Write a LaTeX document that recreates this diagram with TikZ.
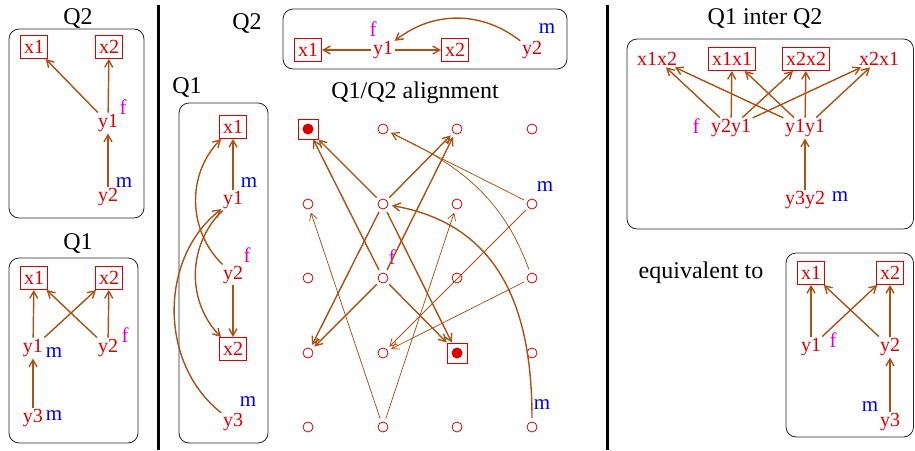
\documentclass[tikz,border=0pt]{standalone}
\usepackage{fontspec}
\setmainfont{Liberation Serif}
\usetikzlibrary{arrows.meta}
\definecolor{nred}{RGB}{218,0,0}
\definecolor{ebrown}{RGB}{168,82,20}
\definecolor{fmag}{RGB}{214,0,214}
\definecolor{mblue}{RGB}{0,0,240}
\tikzset{
 nd/.style={text=nred, font=\fontsize{20}{24}\selectfont, inner sep=1.5pt},
 bx/.style={nd, draw=nred, line width=0.9pt, minimum height=23pt, inner xsep=3.5pt},
 ttl/.style={font=\fontsize{24}{28}\selectfont, inner sep=0pt},
 fl/.style={text=fmag, font=\fontsize{21}{24}\selectfont, inner sep=0pt},
 ml/.style={text=mblue, font=\fontsize{21}{24}\selectfont, inner sep=0pt},
 panel/.style={draw=black!85, line width=0.8pt, rounded corners=10pt},
 ed/.style={draw=ebrown, line width=1.4pt, -{Straight Barb[length=7pt,width=8pt]}},
 edt/.style={draw=ebrown, line width=0.75pt, -{Straight Barb[length=7pt,width=8pt]}},
 gc/.style={circle, draw=nred, line width=0.8pt, minimum size=10pt, inner sep=0pt, outer sep=4pt},
 gf/.style={rectangle, draw=nred, line width=0.9pt, minimum size=20pt, inner sep=0pt,
   path picture={\fill[nred] (path picture bounding box.center) circle (5.5pt);}},
 sepline/.style={line width=3pt, draw=black}
}
\begin{document}
\begin{tikzpicture}[x=1pt,y=1pt]
\useasboundingbox (0,0) rectangle (915,-450);
% separators
\coordinate (s1a) at (158.5,-5); \coordinate (s1b) at (158.5,-450);
\coordinate (s2a) at (607,-5); \coordinate (s2b) at (607,-450);
\draw[sepline] (s1a) -- (s1b);
\draw[sepline] (s2a) -- (s2b);

% ---------- left top: Q2 ----------
\node[ttl] (tA) at (78,-18) {Q2};
\draw[panel] (9,-29) rectangle (144,-218);
\node[bx] (ax1) at (34,-47) {x1};
\node[bx] (ax2) at (109,-47) {x2};
\node[nd] (ay1) at (108,-123) {y1};
\node[nd] (ay2) at (108,-197) {y2};
\node[fl] (af) at (123,-107) {f};
\node[ml] (am) at (124,-183) {m};
\draw[ed] (ay1) -- (ax1);
\draw[ed] (ay1) -- (ax2);
\draw[ed] (ay2) -- (ay1);

% ---------- left bottom: Q1 ----------
\node[ttl] (tB) at (78,-243) {Q1};
\draw[panel] (9,-258) rectangle (138,-443);
\node[bx] (bx1) at (34,-278) {x1};
\node[bx] (bx2) at (109,-278) {x2};
\node[nd] (by1) at (33,-348) {y1};
\node[nd] (by2) at (108,-348) {y2};
\node[nd] (by3) at (33,-418) {y3};
\node[ml] (bm1) at (54,-353) {m};
\node[fl] (bf) at (125,-335) {f};
\node[ml] (bm3) at (54,-416) {m};
\draw[ed] (by1) -- (bx1);
\draw[ed] (by1) -- (bx2);
\draw[ed] (by2) -- (bx1);
\draw[ed] (by2) -- (bx2);
\draw[ed] (by3) -- (by1);

% ---------- middle top: Q2 ----------
\node[ttl] (tC) at (247,-23) {Q2};
\draw[panel] (283,-9) rectangle (567,-69);
\node[bx] (cx1) at (308,-50) {x1};
\node[nd] (cy1) at (383,-50) {y1};
\node[bx] (cx2) at (455,-50) {x2};
\node[nd] (cy2) at (532,-50) {y2};
\node[fl] (cf) at (373,-29) {f};
\node[ml] (cm) at (547,-29) {m};
\draw[ed] (cy1) -- (cx1);
\draw[ed] (cy1) -- (cx2);
\draw[ed] (cy2) to[bend right=38] (cy1);

% ---------- middle left: Q1 ----------
\node[ttl] (tD) at (187,-87) {Q1};
\draw[panel] (179,-103) rectangle (268,-443);
\node[bx] (dx1) at (233,-127) {x1};
\node[nd] (dy1) at (233,-200) {y1};
\node[nd] (dy2) at (233,-275) {y2};
\node[bx] (dx2) at (233,-349) {x2};
\node[nd] (dy3) at (233,-422) {y3};
\node[ml] (dm1) at (249,-183) {m};
\node[fl] (df) at (247,-255) {f};
\node[ml] (dm3) at (248,-402) {m};
\draw[ed] (dy1) -- (dx1);
\draw[ed] (dy2) -- (dx2);
\draw[ed] (dy2) to[bend left=45] (dx1);
\draw[ed] (dy1) to[bend right=45] (dx2);
\draw[ed] (dy3) to[bend left=52] (dy1);

% ---------- alignment grid ----------
\node[ttl] (tE) at (415,-93) {Q1/Q2 alignment};
\foreach \r/\yy in {0/129,1/204,2/278,3/353,4/427}{
  \foreach \c/\xx in {0/308,1/383,2/457,3/532}{
    \ifnum\r\c=0
      \node[gf] (g\r\c) at (\xx,-\yy) {};
    \else\ifnum\r\c=32
      \node[gf] (g\r\c) at (\xx,-\yy) {};
    \else
      \node[gc] (g\r\c) at (\xx,-\yy) {};
    \fi\fi
  }
}
\node[ml] (em1) at (545,-187) {m};
\node[fl] (ef) at (392,-257) {f};
\node[ml] (em2) at (542,-405) {m};
\foreach \s in {g11,g21}{
  \foreach \t in {g00,g02,g30,g32}{
    \draw[ed] (\s) -- (\t);
  }
}
\draw[ed] (g43) to[out=90,in=-10,looseness=1.1] (g11);
\draw[edt] (g41) -- (g10);
\draw[edt] (g41) -- (g12);
\draw[edt] (g13) -- (g01);
\draw[edt] (g23) to[out=110,in=-25] (g01);
\draw[edt] (g13) -- (g31);
\draw[edt] (g23) -- (g31);

% ---------- right top: Q1 inter Q2 ----------
\node[ttl] (tF) at (765,-18) {Q1 inter Q2};
\draw[panel] (627,-39) rectangle (913.5,-229);
\node[nd] (fx12) at (657,-59) {x1x2};
\node[bx] (fx11) at (732,-59) {x1x1};
\node[bx] (fx22) at (806,-59) {x2x2};
\node[nd] (fx21) at (879,-59) {x2x1};
\node[nd] (fy21) at (731,-128) {y2y1};
\node[nd] (fy11) at (805,-128) {y1y1};
\node[nd] (fy32) at (805,-200) {y3y2};
\node[fl] (ff) at (696,-126) {f};
\node[ml] (fm) at (840,-197) {m};
\foreach \s in {fy21,fy11}{
  \foreach \t in {fx12,fx11,fx22,fx21}{
    \draw[ed] (\s) -- (\t);
  }
}
\draw[ed] (fy32) -- (fy11);

% ---------- right bottom: equivalent ----------
\node[ttl] (tG) at (701,-273) {equivalent to};
\draw[panel] (786,-253) rectangle (913.5,-437);
\node[bx] (hx1) at (811,-273) {x1};
\node[bx] (hx2) at (890,-273) {x2};
\node[nd] (hy1) at (811,-347) {y1};
\node[nd] (hy2) at (890,-347) {y2};
\node[nd] (hy3) at (890,-422) {y3};
\node[fl] (hf) at (833,-340) {f};
\node[ml] (hm) at (870,-407) {m};
\draw[ed] (hy1) -- (hx1);
\draw[ed] (hy1) -- (hx2);
\draw[ed] (hy2) -- (hx1);
\draw[ed] (hy2) -- (hx2);
\draw[ed] (hy3) -- (hy2);
\end{tikzpicture}
\end{document}
